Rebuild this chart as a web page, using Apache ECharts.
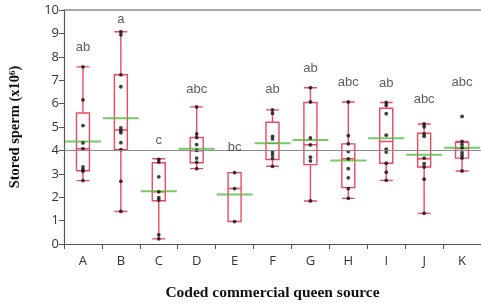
<!DOCTYPE html>
<html>
<head>
<meta charset="utf-8">
<script src="https://cdn.jsdelivr.net/npm/echarts@6/dist/echarts.min.js"></script>
<style>html,body{margin:0;padding:0;background:#fff}#c{width:481px;height:306px}</style>
</head>
<body>
<div id="c"></div>
<script>
// ---- data ----
var categories = ['A','B','C','D','E','F','G','H','I','J','K'];
// [min, Q1, median, Q3, max]
var boxStats = [
  [2.71, 3.13, 4.07, 5.60, 7.57],
  [1.39, 4.03, 4.87, 7.23, 9.07],
  [0.22, 1.85, 2.23, 3.47, 3.64],
  [3.22, 3.47, 3.98, 4.55, 5.86],
  [0.96, 0.96, 2.37, 3.05, 3.05],
  [3.32, 3.61, 4.30, 5.20, 5.73],
  [1.84, 3.39, 4.24, 6.05, 6.68],
  [1.95, 2.41, 3.64, 4.28, 6.07],
  [2.72, 3.45, 4.38, 5.80, 6.05],
  [1.31, 3.29, 3.64, 4.73, 5.13],
  [3.12, 3.67, 4.08, 4.35, 4.38]
];
var means = [4.38, 5.37, 2.25, 4.07, 2.12, 4.31, 4.44, 3.57, 4.52, 3.81, 4.11];
var points = {
  A: [7.57, 6.16, 5.06, 4.32, 4.07, 3.29, 3.18, 3.11, 2.71],
  B: [9.07, 8.94, 7.23, 6.72, 4.96, 4.84, 4.75, 4.33, 4.03, 2.68, 1.39],
  C: [3.62, 3.50, 2.87, 2.23, 1.98, 1.88, 0.39, 0.22],
  D: [5.86, 4.70, 4.55, 4.25, 4.00, 3.67, 3.50, 3.22],
  E: [3.05, 2.37, 0.96],
  F: [5.73, 5.58, 4.60, 4.49, 3.93, 3.81, 3.67, 3.32],
  G: [6.68, 6.07, 4.53, 4.24, 3.71, 3.55, 1.84],
  H: [6.07, 4.63, 4.28, 3.95, 3.64, 3.22, 2.83, 2.37, 1.95],
  I: [6.05, 5.93, 5.57, 4.65, 4.05, 3.93, 3.45, 3.07, 2.72],
  J: [5.13, 5.01, 4.70, 4.60, 3.67, 3.43, 3.29, 2.77, 1.31],
  K: [5.45, 4.38, 4.25, 4.11, 3.90, 3.78, 3.67, 3.12]
};
var letters = ['ab','a','c','abc','bc','ab','ab','abc','ab','abc','abc'];
var letterY = [8.39, 9.58, 4.42, 6.61, 4.11, 6.61, 7.50, 6.92, 6.86, 6.19, 6.92];
var referenceLine = 4;
var yTicks = [0,1,2,3,4,5,6,7,8,9,10];

// ---- build ----
var pointData = [];
categories.forEach(function (c) {
  points[c].forEach(function (v) { pointData.push([c, v]); });
});
var meanData = categories.map(function (c, i) { return [c, means[i]]; });
var letterData = categories.map(function (c, i) { return [c, letterY[i], letters[i]]; });

var RED = '#ec4a62', GREEN = '#55bb46';
var chart = echarts.init(document.getElementById('c'), null, {renderer: 'canvas'});
chart.setOption({
  animation: false,
  grid: {left: 63, right: -4, top: 10, bottom: 60, show: false},
  xAxis: [{
    type: 'category', data: categories, boundaryGap: true,
    name: 'Coded commercial queen source', nameLocation: 'middle', nameGap: 41,
    nameTextStyle: {fontFamily: 'Liberation Serif', fontWeight: 'bold', fontSize: 15.5, color: '#111'},
    axisLine: {lineStyle: {color: '#555', width: 1.2}},
    axisTick: {show: true, length: 5, lineStyle: {color: '#555'}},
    axisLabel: {fontFamily: 'Open Sans', fontSize: 13, color: '#333', margin: 11},
    splitLine: {show: false}
  }, {
    type: 'category', data: categories, position: 'top', boundaryGap: true,
    axisLine: {lineStyle: {color: '#8a8a8a', width: 1.6}},
    axisTick: {show: false}, axisLabel: {show: false}, splitLine: {show: false}
  }],
  yAxis: {
    type: 'value', min: 0, max: 10, interval: 1,
    name: 'Stored sperm (x10{sup|6})', nameLocation: 'middle', nameGap: 41,
    nameTextStyle: {fontFamily: 'Liberation Serif', fontWeight: 'bold', fontSize: 14.5, color: '#111',
      rich: {sup: {fontFamily: 'Liberation Serif', fontWeight: 'bold', fontSize: 9, color: '#111', verticalAlign: 'top'}}},
    axisLine: {show: true, lineStyle: {color: '#555', width: 1.2}},
    axisTick: {show: true, length: 5, lineStyle: {color: '#555'}},
    axisLabel: {fontFamily: 'Open Sans', fontSize: 13, color: '#333', margin: 5,
      formatter: function (v) { return yTicks.indexOf(v) >= 0 ? String(v) : ''; }},
    splitLine: {show: false}
  },
  series: [
    {
      type: 'boxplot', data: boxStats, boxWidth: [13, 13], z: 2,
      itemStyle: {color: 'rgba(255,255,255,0)', borderColor: RED, borderWidth: 1.4},
      markLine: {
        silent: true, symbol: 'none', label: {show: false},
        lineStyle: {color: '#8c8c8c', type: 'solid', width: 1.2},
        data: [{yAxis: referenceLine}]
      }
    },
    {
      type: 'scatter', data: meanData, symbol: 'rect', symbolSize: [36, 2], z: 3,
      itemStyle: {color: GREEN}
    },
    {
      type: 'scatter', data: pointData, symbol: 'circle', symbolSize: 3.8, z: 4,
      itemStyle: {color: '#111'}
    },
    {
      type: 'scatter', data: letterData, symbolSize: 0, z: 5,
      label: {show: true, position: 'inside', formatter: function (p) { return p.data[2]; },
        fontFamily: 'Liberation Sans', fontSize: 13, color: '#333'}
    }
  ]
});
</script>
</body>
</html>
